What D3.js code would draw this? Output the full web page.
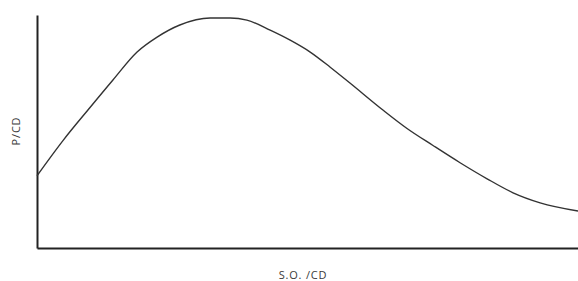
<!DOCTYPE html>
<html>
<head>
<meta charset="utf-8">
<script src="https://cdn.jsdelivr.net/npm/d3@7"></script>
<style>
  body { margin: 0; background: #fff; }
  text { font-family: "Open Sans", "DejaVu Sans", sans-serif; fill: #3a3a3a; }
</style>
</head>
<body>
<div id="chart"></div>
<script>
// curve, both axes in arbitrary 0..100 units
const soValues = [0, 4.8, 9.8, 14.0, 18.5, 22.2, 26.4, 32.0, 35.7, 38.8, 43.1, 46.8, 50.5, 54.2, 57.9, 64.0, 68.4, 73.2, 78.2, 83.2, 88.0, 93.0, 100];
const pValues = [31.0, 46.1, 60.3, 72.0, 84.1, 90.5, 95.7, 98.7, 98.7, 97.8, 93.5, 89.2, 84.1, 77.6, 70.7, 59.1, 51.3, 44.0, 36.6, 29.7, 23.7, 19.4, 15.9];
const xLabel = 'S.O. /CD';
const yLabel = 'P/CD';

const W = 578, H = 281;
const margin = { top: 15, right: 0, bottom: 33, left: 37 };

const svg = d3.select('#chart').append('svg')
    .attr('width', W)
    .attr('height', H);

const x = d3.scaleLinear().domain([0, 100]).range([margin.left, W - margin.right]);
const y = d3.scaleLinear().domain([0, 100]).range([H - margin.bottom, margin.top]);

const points = soValues.map((v, i) => [v, pValues[i]]);

// axes as bare lines, no ticks
svg.append('g')
    .attr('transform', `translate(0,${y(0)})`)
    .call(d3.axisBottom(x).ticks(0).tickSize(0))
    .call(g => g.select('.domain').attr('stroke', '#222').attr('stroke-width', 2));

svg.append('g')
    .attr('transform', `translate(${x(0)},0)`)
    .call(d3.axisLeft(y).ticks(0).tickSize(0))
    .call(g => g.select('.domain').attr('stroke', '#222').attr('stroke-width', 2));

const line = d3.line()
    .x(d => x(d[0]))
    .y(d => y(d[1]))
    .curve(d3.curveMonotoneX);

svg.append('path')
    .datum(points)
    .attr('fill', 'none')
    .attr('stroke', '#333')
    .attr('stroke-width', 1.4)
    .attr('d', line);

svg.append('text')
    .attr('x', 303)
    .attr('y', 279)
    .attr('text-anchor', 'middle')
    .style('font-size', '11px')
    .style('letter-spacing', '0.8px')
    .text(xLabel);

svg.append('text')
    .attr('transform', 'translate(20,131) rotate(-90)')
    .attr('text-anchor', 'middle')
    .style('font-size', '11px')
    .style('letter-spacing', '0.8px')
    .text(yLabel);
</script>
</body>
</html>
